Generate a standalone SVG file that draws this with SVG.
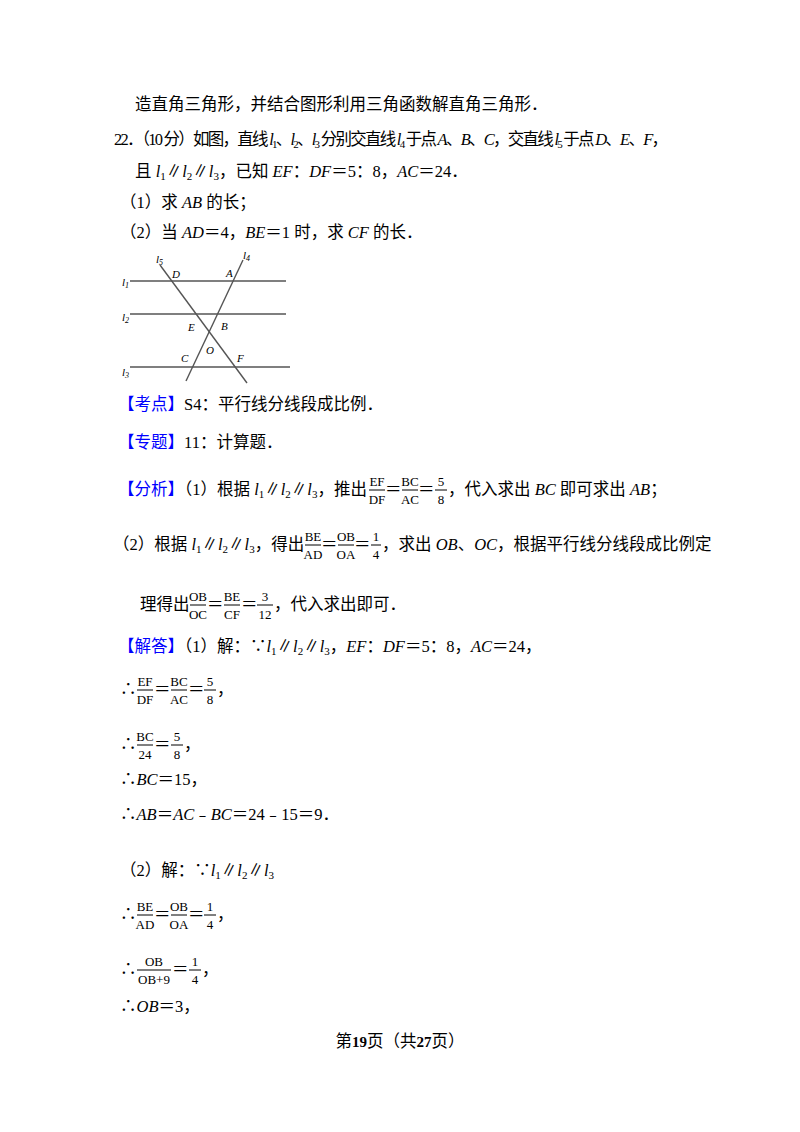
<svg xmlns="http://www.w3.org/2000/svg" width="800" height="1132" viewBox="0 0 800 1132">
<style>
text{font-family:"Liberation Serif","Noto Sans CJK SC",serif;font-size:16.5px;fill:#000}
.i{font-style:italic}
.s{font-size:11px;baseline-shift:-3px}
.b{fill:#0000ff}
.f{font-size:13px;text-anchor:middle}
.fl{font-size:11px;font-style:italic}
line{stroke:#000}
.g line{stroke:#555;stroke-width:1.4}
.fb{stroke-width:1}
</style>
<rect width="800" height="1132" fill="#fff"/>
<text x="135" y="110">造直角三角形，并结合图形利用三角函数解直角三角形．</text>
<text x="114" y="145" textLength="554">22．（10 分）如图，直线 <tspan class="i">l</tspan><tspan class="s">1</tspan>、<tspan class="i">l</tspan><tspan class="s">2</tspan>、<tspan class="i">l</tspan><tspan class="s">3</tspan> 分别交直线 <tspan class="i">l</tspan><tspan class="s">4</tspan> 于点 <tspan class="i">A</tspan>、<tspan class="i">B</tspan>、<tspan class="i">C</tspan>，交直线 <tspan class="i">l</tspan><tspan class="s">5</tspan> 于点 <tspan class="i">D</tspan>、<tspan class="i">E</tspan>、<tspan class="i">F</tspan>，</text>
<text x="135" y="177">且 <tspan class="i">l</tspan><tspan class="s">1</tspan>∥<tspan class="i">l</tspan><tspan class="s">2</tspan>∥<tspan class="i">l</tspan><tspan class="s">3</tspan>，已知 <tspan class="i">EF</tspan>：<tspan class="i">DF</tspan>＝5：8，<tspan class="i">AC</tspan>＝24．</text>
<text x="120" y="208">（1）求 <tspan class="i">AB</tspan> 的长；</text>
<text x="120" y="238">（2）当 <tspan class="i">AD</tspan>＝4，<tspan class="i">BE</tspan>＝1 时，求 <tspan class="i">CF</tspan> 的长．</text>

<g id="figure" class="g">
<line x1="130" y1="281" x2="286" y2="281"/>
<line x1="130" y1="314" x2="286" y2="314"/>
<line x1="130" y1="367" x2="290" y2="367"/>
<line x1="160" y1="265" x2="247" y2="383"/>
<line x1="243" y1="260" x2="186" y2="381"/>
<text class="fl" x="156" y="263">l<tspan font-size="8" dy="2">5</tspan></text>
<text class="fl" x="243" y="259">l<tspan font-size="8" dy="2">4</tspan></text>
<text class="fl" x="122" y="286">l<tspan font-size="8" dy="2">1</tspan></text>
<text class="fl" x="122" y="321">l<tspan font-size="8" dy="2">2</tspan></text>
<text class="fl" x="122" y="376">l<tspan font-size="8" dy="2">3</tspan></text>
<text class="fl" x="172" y="278" font-size="13">D</text>
<text class="fl" x="226" y="277" font-size="13">A</text>
<text class="fl" x="188" y="331" font-size="13">E</text>
<text class="fl" x="221" y="330" font-size="13">B</text>
<text class="fl" x="206" y="354" font-size="13">O</text>
<text class="fl" x="181" y="362" font-size="13">C</text>
<text class="fl" x="237" y="362" font-size="13">F</text>
</g>

<text x="118" y="410"><tspan class="b">【考点】</tspan>S4：平行线分线段成比例．</text>
<text x="118" y="448"><tspan class="b">【专题】</tspan>11：计算题．</text>

<text x="118" y="495"><tspan class="b">【分析】</tspan>（1）根据 <tspan class="i">l</tspan><tspan class="s">1</tspan>∥<tspan class="i">l</tspan><tspan class="s">2</tspan>∥<tspan class="i">l</tspan><tspan class="s">3</tspan>，推出</text>
<g>
<text class="f" x="377" y="486">EF</text><line class="fb" x1="369" y1="490" x2="385" y2="490"/><text class="f" x="377" y="504">DF</text>
<text x="385" y="495">＝</text>
<text class="f" x="410" y="486">BC</text><line class="fb" x1="402" y1="490" x2="418" y2="490"/><text class="f" x="410" y="504">AC</text>
<text x="418" y="495">＝</text>
<text class="f" x="441" y="486">5</text><line class="fb" x1="435" y1="490" x2="447" y2="490"/><text class="f" x="441" y="504">8</text>
</g>
<text x="448" y="495">，代入求出 <tspan class="i">BC</tspan> 即可求出 <tspan class="i">AB</tspan>；</text>

<text x="113" y="550">（2）根据 <tspan class="i">l</tspan><tspan class="s">1</tspan>∥<tspan class="i">l</tspan><tspan class="s">2</tspan>∥<tspan class="i">l</tspan><tspan class="s">3</tspan>，得出</text>
<g>
<text class="f" x="313" y="541">BE</text><line class="fb" x1="305" y1="545" x2="321" y2="545"/><text class="f" x="313" y="559">AD</text>
<text x="321" y="550">＝</text>
<text class="f" x="346" y="541">OB</text><line class="fb" x1="338" y1="545" x2="354" y2="545"/><text class="f" x="346" y="559">OA</text>
<text x="354" y="550">＝</text>
<text class="f" x="376" y="541">1</text><line class="fb" x1="371" y1="545" x2="381" y2="545"/><text class="f" x="376" y="559">4</text>
</g>
<text x="382" y="550">，求出 <tspan class="i">OB</tspan>、<tspan class="i">OC</tspan>，根据平行线分线段成比例定</text>

<text x="140" y="610">理得出</text>
<g>
<text class="f" x="198" y="601">OB</text><line class="fb" x1="190" y1="605" x2="206" y2="605"/><text class="f" x="198" y="619">OC</text>
<text x="207" y="610">＝</text>
<text class="f" x="232" y="601">BE</text><line class="fb" x1="224" y1="605" x2="240" y2="605"/><text class="f" x="232" y="619">CF</text>
<text x="241" y="610">＝</text>
<text class="f" x="265" y="601">3</text><line class="fb" x1="257" y1="605" x2="273" y2="605"/><text class="f" x="265" y="619">12</text>
</g>
<text x="274" y="610">，代入求出即可．</text>

<text x="118" y="652"><tspan class="b">【解答】</tspan>（1）解：∵<tspan class="i">l</tspan><tspan class="s">1</tspan>∥<tspan class="i">l</tspan><tspan class="s">2</tspan>∥<tspan class="i">l</tspan><tspan class="s">3</tspan>，<tspan class="i">EF</tspan>：<tspan class="i">DF</tspan>＝5：8，<tspan class="i">AC</tspan>＝24，</text>

<text x="120" y="695">∴</text>
<g>
<text class="f" x="145" y="686">EF</text><line class="fb" x1="137" y1="690" x2="153" y2="690"/><text class="f" x="145" y="704">DF</text>
<text x="154" y="695">＝</text>
<text class="f" x="179" y="686">BC</text><line class="fb" x1="171" y1="690" x2="187" y2="690"/><text class="f" x="179" y="704">AC</text>
<text x="188" y="695">＝</text>
<text class="f" x="210" y="686">5</text><line class="fb" x1="204" y1="690" x2="216" y2="690"/><text class="f" x="210" y="704">8</text>
<text x="217" y="695">，</text>
</g>

<text x="120" y="750">∴</text>
<g>
<text class="f" x="145" y="741">BC</text><line class="fb" x1="137" y1="745" x2="153" y2="745"/><text class="f" x="145" y="759">24</text>
<text x="154" y="750">＝</text>
<text class="f" x="177" y="741">5</text><line class="fb" x1="171" y1="745" x2="183" y2="745"/><text class="f" x="177" y="759">8</text>
<text x="184" y="750">，</text>
</g>
<text x="120" y="785">∴<tspan class="i">BC</tspan>＝15，</text>
<text x="120" y="820">∴<tspan class="i">AB</tspan>＝<tspan class="i">AC</tspan>﹣<tspan class="i">BC</tspan>＝24﹣15＝9．</text>

<text x="120" y="876">（2）解：∵<tspan class="i">l</tspan><tspan class="s">1</tspan>∥<tspan class="i">l</tspan><tspan class="s">2</tspan>∥<tspan class="i">l</tspan><tspan class="s">3</tspan></text>
<text x="120" y="920">∴</text>
<g>
<text class="f" x="145" y="911">BE</text><line class="fb" x1="137" y1="915" x2="153" y2="915"/><text class="f" x="145" y="929">AD</text>
<text x="154" y="920">＝</text>
<text class="f" x="179" y="911">OB</text><line class="fb" x1="171" y1="915" x2="187" y2="915"/><text class="f" x="179" y="929">OA</text>
<text x="188" y="920">＝</text>
<text class="f" x="210" y="911">1</text><line class="fb" x1="204" y1="915" x2="216" y2="915"/><text class="f" x="210" y="929">4</text>
<text x="217" y="920">，</text>
</g>
<text x="120" y="975">∴</text>
<g>
<text class="f" x="154" y="966">OB</text><line class="fb" x1="137" y1="970" x2="171" y2="970"/><text class="f" x="154" y="984">OB+9</text>
<text x="172" y="975">＝</text>
<text class="f" x="195" y="966">1</text><line class="fb" x1="189" y1="970" x2="201" y2="970"/><text class="f" x="195" y="984">4</text>
<text x="202" y="975">，</text>
</g>
<text x="120" y="1012">∴<tspan class="i">OB</tspan>＝3，</text>

<text x="400" y="1047" text-anchor="middle" font-size="13">第<tspan font-weight="bold" font-size="15">19</tspan>页（共<tspan font-weight="bold" font-size="15">27</tspan>页）</text>
</svg>
